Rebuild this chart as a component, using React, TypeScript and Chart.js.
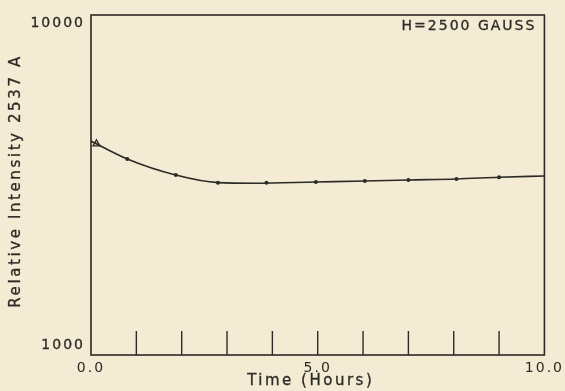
import React, { useEffect, useRef } from "react";
import { Chart, registerables } from "chart.js";

Chart.register(...registerables);

// ---- data ----
const pointHours = [0.8, 1.87, 2.8, 3.87, 4.96, 6.04, 7.0, 8.06, 9.0];
const pointIntensity = [3772, 3383, 3213, 3213, 3228, 3250, 3272, 3294, 3332];

const curveHours = [0, 0.8, 1.87, 2.8, 3.6, 4.96, 6.04, 7.0, 8.06, 9.0, 10];
const curveIntensity = [4260, 3772, 3383, 3213, 3200, 3228, 3250, 3272, 3294, 3332, 3362];

const startHours = [0.12];
const startIntensity = [4180];

const xTickValues = [0, 5, 10];
const xTickLabels = ["0.0", "5.0", "10.0"];
const innerTickValues = [1, 2, 3, 4, 5, 6, 7, 8, 9];
const yTickValues = [1000, 10000];
const yTickLabels = ["1000", "10000"];

const xTitle = "Time (Hours)";
const yTitle = "Relative Intensity 2537 A";
const note = "H=2500 GAUSS";

const INK = "#2c2a26";
const BG = "#f3ebd3";
const FONT = "'DejaVu Sans', sans-serif";

function heavyText(ctx: CanvasRenderingContext2D, t: string, x: number, y: number) {
  ctx.fillText(t, x, y);
  ctx.strokeText(t, x, y);
}

const decorPlugin = {
  id: "decor",
  beforeDraw(chart: any) {
    const ctx = chart.ctx;
    ctx.save();
    ctx.fillStyle = BG;
    ctx.fillRect(0, 0, chart.width, chart.height);
    ctx.restore();
    ctx.letterSpacing = "2px";
  },
  afterDraw(chart: any) {
    const { ctx, chartArea: a, scales } = chart;
    const xs = scales.x;
    const ys = scales.y;
    ctx.save();
    ctx.strokeStyle = INK;
    ctx.lineWidth = 1.6;
    ctx.strokeRect(a.left, a.top, a.right - a.left, a.bottom - a.top);
    // inner ticks along bottom
    ctx.lineWidth = 1.4;
    innerTickValues.forEach((v) => {
      const px = xs.getPixelForValue(v);
      ctx.beginPath();
      ctx.moveTo(px, a.bottom);
      ctx.lineTo(px, a.bottom - 24);
      ctx.stroke();
    });
    ctx.fillStyle = INK;
    ctx.lineWidth = 0.3;
    // y tick labels
    ctx.font = `14px ${FONT}`;
    ctx.letterSpacing = "2px";
    ctx.textAlign = "right";
    ctx.textBaseline = "middle";
    yTickValues.forEach((v, i) => {
      const py = ys.getPixelForValue(v);
      const nudge = py > (a.top + a.bottom) / 2 ? -10 : 8;
      heavyText(ctx, yTickLabels[i], a.left - 6, py + nudge);
    });
    // note
    ctx.textAlign = "left";
    ctx.letterSpacing = "2px";
    heavyText(ctx, note, xs.getPixelForValue(6.85), a.top + 11);
    // x title
    ctx.font = `15px ${FONT}`;
    ctx.letterSpacing = "2.5px";
    ctx.textAlign = "center";
    heavyText(ctx, xTitle, (a.left + a.right) / 2 - 7, 381);
    // y title
    ctx.font = `15px ${FONT}`;
    ctx.letterSpacing = "2.6px";
    ctx.translate(16, (a.top + a.bottom) / 2 - 4);
    ctx.rotate(-Math.PI / 2);
    heavyText(ctx, yTitle, 0, 0);
    ctx.restore();
  },
};

export default function App() {
  const ref = useRef<HTMLCanvasElement | null>(null);
  useEffect(() => {
    if (!ref.current) return;
    const chart = new Chart(ref.current, {
      type: "scatter",
      data: {
        datasets: [
          {
            type: "line",
            data: curveHours.map((x, i) => ({ x, y: curveIntensity[i] })),
            borderColor: INK,
            borderWidth: 1.6,
            pointRadius: 0,
            cubicInterpolationMode: "monotone",
            fill: false,
          } as any,
          {
            data: pointHours.map((x, i) => ({ x, y: pointIntensity[i] })),
            backgroundColor: INK,
            borderColor: INK,
            pointRadius: 2,
            borderWidth: 0,
          },
          {
            data: startHours.map((x, i) => ({ x, y: startIntensity[i] })),
            pointStyle: "triangle",
            backgroundColor: "rgba(0,0,0,0)",
            borderColor: INK,
            borderWidth: 1.3,
            pointRadius: 4,
          },
        ],
      },
      options: {
        animation: false,
        responsive: false,
        maintainAspectRatio: false,
        layout: { padding: { top: 15, right: 19, left: 0, bottom: 0 } },
        plugins: { legend: { display: false }, tooltip: { enabled: false } },
        scales: {
          x: {
            type: "linear",
            min: 0,
            max: 10,
            afterBuildTicks: (s: any) => {
              s.ticks = xTickValues.map((value) => ({ value }));
            },
            afterFit: (s: any) => {
              s.height = 36;
            },
            ticks: {
              autoSkip: false,
              maxRotation: 0,
              padding: 5,
              color: INK,
              font: { family: FONT, size: 14 },
              callback: (v: any) => {
                const i = xTickValues.indexOf(Number(v));
                return i >= 0 ? xTickLabels[i] : "";
              },
            },
            grid: { display: false, drawTicks: false },
            border: { display: false },
          },
          y: {
            type: "logarithmic",
            min: 1000,
            max: 10000,
            afterBuildTicks: (s: any) => {
              s.ticks = yTickValues.map((value) => ({ value }));
            },
            afterFit: (s: any) => {
              s.width = 91;
            },
            ticks: { display: false },
            grid: { display: false, drawTicks: false },
            border: { display: false },
          },
        },
      } as any,
      plugins: [decorPlugin],
    });
    return () => chart.destroy();
  }, []);
  return (
    <div style={{ position: "fixed", left: 0, top: 0, width: 565, height: 391, background: BG }}>
      <canvas ref={ref} width={565} height={391} style={{ width: 565, height: 391, display: "block" }} />
    </div>
  );
}
